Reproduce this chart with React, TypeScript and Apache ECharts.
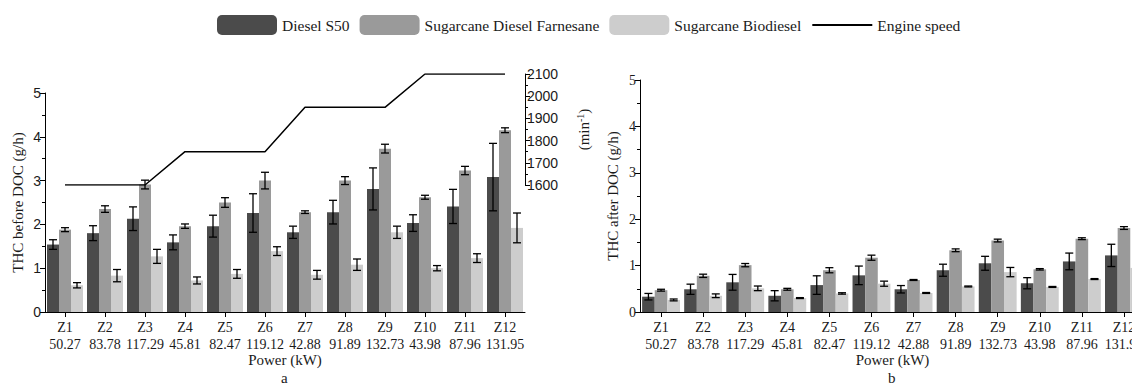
import React, { useEffect, useRef } from "react";
import * as echarts from "echarts";

// Operating points and engine power
const categories = ["Z1", "Z2", "Z3", "Z4", "Z5", "Z6", "Z7", "Z8", "Z9", "Z10", "Z11", "Z12"];
const powers = ["50.27", "83.78", "117.29", "45.81", "82.47", "119.12", "42.88", "91.89", "132.73", "43.98", "87.96", "131.95"];
const engineSpeed = [1600, 1600, 1600, 1750, 1750, 1750, 1950, 1950, 1950, 2100, 2100, 2100];

// THC before DOC (g/h) with standard deviations
const dieselBefore = [1.54, 1.8, 2.13, 1.59, 1.96, 2.26, 1.82, 2.28, 2.81, 2.03, 2.41, 3.08];
const dieselBeforeErr = [0.11, 0.17, 0.27, 0.17, 0.25, 0.44, 0.14, 0.27, 0.48, 0.19, 0.39, 0.77];
const farnesaneBefore = [1.88, 2.35, 2.91, 1.96, 2.5, 3.0, 2.28, 3.0, 3.73, 2.62, 3.23, 4.15];
const farnesaneBeforeErr = [0.045, 0.075, 0.1, 0.05, 0.11, 0.19, 0.03, 0.09, 0.1, 0.045, 0.095, 0.055];
const biodieselBefore = [0.61, 0.83, 1.27, 0.72, 0.87, 1.39, 0.85, 1.08, 1.82, 1.0, 1.23, 1.92];
const biodieselBeforeErr = [0.06, 0.14, 0.16, 0.08, 0.1, 0.1, 0.1, 0.13, 0.14, 0.06, 0.1, 0.34];

// THC after DOC (g/h) with standard deviations
const dieselAfter = [0.33, 0.49, 0.64, 0.35, 0.58, 0.79, 0.49, 0.9, 1.05, 0.62, 1.09, 1.22];
const dieselAfterErr = [0.07, 0.11, 0.17, 0.11, 0.2, 0.2, 0.08, 0.13, 0.15, 0.12, 0.18, 0.24];
const farnesaneAfter = [0.47, 0.78, 1.01, 0.49, 0.9, 1.17, 0.69, 1.33, 1.54, 0.92, 1.58, 1.81];
const farnesaneAfterErr = [0.02, 0.035, 0.035, 0.02, 0.055, 0.055, 0.01, 0.03, 0.03, 0.015, 0.02, 0.03];
const biodieselAfter = [0.26, 0.35, 0.51, 0.3, 0.4, 0.61, 0.41, 0.55, 0.86, 0.54, 0.71, 0.95];
const biodieselAfterErr = [0.02, 0.04, 0.05, 0.01, 0.015, 0.055, 0.01, 0.01, 0.1, 0.01, 0.01, 0.02];

const fuelNames = ["Diesel S50", "Sugarcane Diesel Farnesane", "Sugarcane Biodiesel"];
const fuelColors = ["#4b4b4b", "#9a9a9a", "#cdcdcd"];

const SERIF = "'Liberation Serif', 'Times New Roman', serif";
const SANS = "'Liberation Sans', Arial, sans-serif";
const INK = "#1a1a1a";

function errorSeries(values: number[], errs: number[], slot: number, axisIndex: number) {
  return {
    type: "custom",
    xAxisIndex: axisIndex,
    yAxisIndex: axisIndex,
    z: 5,
    silent: true,
    data: values.map((v, i) => [i, v, errs[i]]),
    encode: { x: 0, y: 1 },
    renderItem: (params: any, api: any) => {
      const idx = api.value(0);
      const val = api.value(1);
      const err = api.value(2);
      const band = api.size([1, 0])[0];
      const offset = (slot - 1) * band * 0.3;
      const top = api.coord([idx, val + err]);
      const bot = api.coord([idx, val - err]);
      const x = top[0] + offset;
      const cap = 4;
      const style = { stroke: "#000", lineWidth: 1.3 };
      return {
        type: "group",
        children: [
          { type: "line", shape: { x1: x, y1: top[1], x2: x, y2: bot[1] }, style },
          { type: "line", shape: { x1: x - cap, y1: top[1], x2: x + cap, y2: top[1] }, style },
          { type: "line", shape: { x1: x - cap, y1: bot[1], x2: x + cap, y2: bot[1] }, style },
        ],
      };
    },
  };
}

function barSeries(values: number[], slot: number, axisIndex: number) {
  return {
    type: "bar",
    name: fuelNames[slot],
    xAxisIndex: axisIndex,
    yAxisIndex: axisIndex,
    data: values,
    barGap: "0%",
    barCategoryGap: "10%",
    clip: false,
    itemStyle: { color: fuelColors[slot] },
  };
}

function categoryAxis(gridIndex: number, showName: boolean) {
  return {
    type: "category",
    gridIndex,
    data: categories,
    boundaryGap: true,
    axisLine: { show: true, lineStyle: { color: "#000", width: 1 } },
    axisTick: { show: true, alignWithLabel: true, length: 5, lineStyle: { color: "#000" } },
    axisLabel: {
      show: true,
      interval: 0,
      margin: 7,
      fontFamily: SERIF,
      fontSize: 14,
      lineHeight: 17,
      color: INK,
      formatter: (v: string, i: number) => `${v}\n${powers[i]}`,
    },
    name: showName ? "Power (kW)" : "",
    nameLocation: "middle",
    nameGap: 40,
    nameMoveOverlap: false,
    nameTextStyle: { fontFamily: SERIF, fontSize: 15, lineHeight: 16, color: INK },
  };
}

function thcAxis(gridIndex: number, name: string, labelFont: string) {
  return {
    type: "value",
    gridIndex,
    min: 0,
    max: 5,
    interval: 1,
    splitLine: { show: false },
    axisLine: { show: true, lineStyle: { color: "#000", width: 1 } },
    axisTick: { show: true, length: 5, lineStyle: { color: "#000" } },
    minorTick: { show: true, splitNumber: 2, length: 3, lineStyle: { color: "#000" } },
    axisLabel: { fontFamily: labelFont, fontSize: 14, color: INK, margin: 4 },
    name,
    nameLocation: "middle",
    nameGap: 20,
    nameRotate: 90,
    nameTextStyle: { fontFamily: SERIF, fontSize: 15, color: INK },
  };
}

export default function App() {
  const ref = useRef<HTMLDivElement>(null);

  useEffect(() => {
    if (!ref.current) return;
    const chart = echarts.init(ref.current, undefined, { renderer: "svg" });

    const option: any = {
      animation: false,
      backgroundColor: "#ffffff",
      legend: {
        left: 217,
        top: 15,
        padding: 0,
        itemWidth: 60,
        itemHeight: 20,
        itemGap: 10,
        selectedMode: false,
        data: [
          ...fuelNames,
          { name: "Engine speed", itemStyle: { opacity: 0 } },
        ],
        textStyle: { fontFamily: SERIF, fontSize: 15.5, color: INK },
      },
      title: [
        { text: "a", left: 281, top: 370, padding: 0, textStyle: { fontFamily: SERIF, fontSize: 15, lineHeight: 15, fontWeight: "normal", color: INK } },
        { text: "b", left: 888, top: 370, padding: 0, textStyle: { fontFamily: SERIF, fontSize: 15, lineHeight: 15, fontWeight: "normal", color: INK } },
      ],
      grid: [
        { left: 45, width: 480, top: 93, height: 219 },
        { left: 45, width: 480, top: 74, height: 111 },
        { left: 640, width: 505, top: 80, height: 232 },
      ],
      xAxis: [
        categoryAxis(0, true),
        { ...categoryAxis(1, false), show: false },
        categoryAxis(2, true),
      ],
      yAxis: [
        thcAxis(0, "THC before DOC (g/h)", SANS),
        {
          type: "value",
          gridIndex: 1,
          position: "right",
          min: 1600,
          max: 2100,
          interval: 100,
          splitLine: { show: false },
          axisLine: { show: true, lineStyle: { color: "#000", width: 1 } },
          axisTick: { show: true, length: 5, lineStyle: { color: "#000" } },
          minorTick: { show: true, splitNumber: 2, length: 3, lineStyle: { color: "#000" } },
          axisLabel: { fontFamily: SANS, fontSize: 14, color: INK, margin: 2, formatter: (v: number) => String(v) },
          name: "(min{sup|-1})",
          nameLocation: "middle",
          nameGap: 50,
          nameRotate: 90,
          nameTextStyle: {
            fontFamily: SERIF,
            fontSize: 15,
            color: INK,
            rich: { sup: { fontFamily: SERIF, fontSize: 10, color: INK, verticalAlign: "top", padding: [0, 0, 8, 0] } },
          },
        },
        thcAxis(2, "THC after DOC (g/h)", SERIF),
      ],
      series: [
        barSeries(dieselBefore, 0, 0),
        barSeries(farnesaneBefore, 1, 0),
        barSeries(biodieselBefore, 2, 0),
        errorSeries(dieselBefore, dieselBeforeErr, 0, 0),
        errorSeries(farnesaneBefore, farnesaneBeforeErr, 1, 0),
        errorSeries(biodieselBefore, biodieselBeforeErr, 2, 0),
        {
          type: "line",
          name: "Engine speed",
          xAxisIndex: 1,
          yAxisIndex: 1,
          data: engineSpeed,
          symbol: "none",
          z: 6,
          lineStyle: { color: "#000", width: 1.5 },
          itemStyle: { color: "#000" },
        },
        barSeries(dieselAfter, 0, 2),
        barSeries(farnesaneAfter, 1, 2),
        barSeries(biodieselAfter, 2, 2),
        errorSeries(dieselAfter, dieselAfterErr, 0, 2),
        errorSeries(farnesaneAfter, farnesaneAfterErr, 1, 2),
        errorSeries(biodieselAfter, biodieselAfterErr, 2, 2),
      ],
    };

    chart.setOption(option);
    return () => chart.dispose();
  }, []);

  // The canvas runs a little past the window so the right panel is cut at its edge
  return (
    <div
      ref={ref}
      style={{ position: "fixed", left: 0, top: 0, width: 1160, height: 383, background: "#fff" }}
    />
  );
}
